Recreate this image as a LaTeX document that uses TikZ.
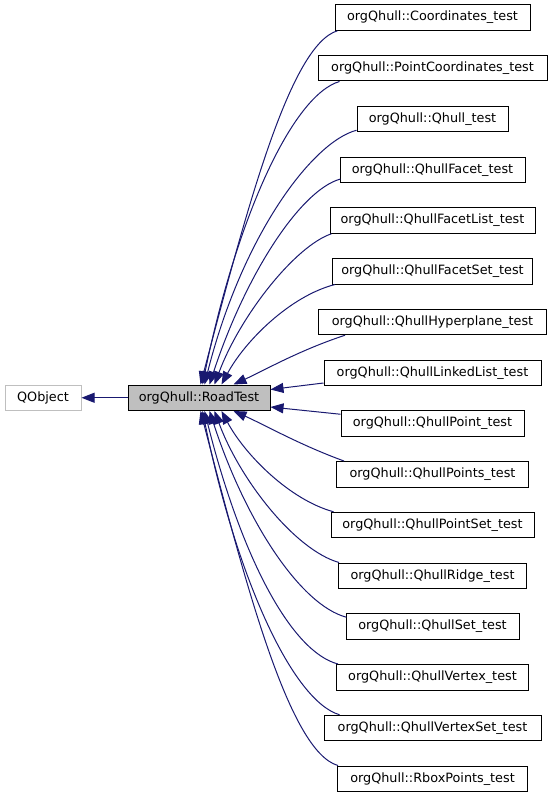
\documentclass[tikz,border=0pt]{standalone}
\usepackage{fontspec}
\setmainfont{DejaVu Sans}
\usetikzlibrary{arrows.meta}
\definecolor{edgeblue}{HTML}{191970}
\definecolor{boxgray}{HTML}{BFBFBF}
\tikzset{
  cls/.style={draw=black, line width=1pt, fill=white, inner sep=0pt, minimum height=25.5pt,
    font=\fontsize{12.8}{14}\selectfont, text=black},
  edge/.style={draw=edgeblue, line width=1pt, -{Triangle[length=13pt,width=10pt]}},
}
\begin{document}
\begin{tikzpicture}[x=1pt,y=-1pt]
\useasboundingbox (0,0) rectangle (552,797);
% nodes
\node[cls, draw=boxgray, minimum width=76pt] (qobj) at (43,397.75) {QObject};
\node[cls, fill=boxgray, minimum width=142pt] (road) at (199,397.75) {orgQhull::RoadTest};
\node[cls, minimum width=195pt] (c1) at (432.5,17.5) {orgQhull::Coordinates\_test};
\node[cls, minimum width=229pt] (c2) at (432.5,68.25) {orgQhull::PointCoordinates\_test};
\node[cls, minimum width=151pt] (c3) at (432.5,119) {orgQhull::Qhull\_test};
\node[cls, minimum width=185pt] (c4) at (432.5,169.75) {orgQhull::QhullFacet\_test};
\node[cls, minimum width=205pt] (c5) at (432.5,220.5) {orgQhull::QhullFacetList\_test};
\node[cls, minimum width=200pt] (c6) at (432.5,271.25) {orgQhull::QhullFacetSet\_test};
\node[cls, minimum width=228pt] (c7) at (432.5,322) {orgQhull::QhullHyperplane\_test};
\node[cls, minimum width=217pt] (c8) at (432.5,372.75) {orgQhull::QhullLinkedList\_test};
\node[cls, minimum width=183pt] (c9) at (432.5,423.5) {orgQhull::QhullPoint\_test};
\node[cls, minimum width=192pt] (c10) at (432.5,474.25) {orgQhull::QhullPoints\_test};
\node[cls, minimum width=203pt] (c11) at (432.5,525) {orgQhull::QhullPointSet\_test};
\node[cls, minimum width=188pt] (c12) at (432.5,575.75) {orgQhull::QhullRidge\_test};
\node[cls, minimum width=173pt] (c13) at (432.5,626.5) {orgQhull::QhullSet\_test};
\node[cls, minimum width=192pt] (c14) at (432.5,677.25) {orgQhull::QhullVertex\_test};
\node[cls, minimum width=217pt] (c15) at (432.5,728) {orgQhull::QhullVertexSet\_test};
\node[cls, minimum width=190pt] (c16) at (432.5,778.75) {orgQhull::RboxPoints\_test};
% edges
\draw[edge] (road.west) -- (qobj.east);
\draw[edge] ([xshift=3pt]c1.south west) .. controls (290,45) and (247,208) .. ([xshift=73pt]road.north west);
\draw[edge] ([xshift=22pt]c2.south west) .. controls (293,95) and (237,216) .. ([xshift=75pt]road.north west);
\draw[edge] ([yshift=2pt]c3.south west) .. controls (312,142) and (242,236) .. ([xshift=77pt]road.north west);
\draw[edge] ([xshift=1pt,yshift=4pt]c4.south west) .. controls (300,190) and (245,276) .. ([xshift=82pt]road.north west);
\draw[edge] ([xshift=2pt]c5.south west) .. controls (295,246) and (240,316) .. ([xshift=87pt]road.north west);
\draw[edge] ([xshift=3pt]c6.south west) .. controls (290,296) and (245,341) .. ([xshift=94pt]road.north west);
\draw[edge] ([xshift=27pt]c7.south west) .. controls (300,350) and (265,370) .. ([xshift=106pt]road.north west);
\draw[edge] ([yshift=3pt]c8.south west) -- ([yshift=-5pt]road.north east);
\draw[edge] ([yshift=-4pt]c9.north west) -- ([yshift=4pt]road.south east);
\draw[edge] ([xshift=8pt]c10.north west) .. controls (300,445) and (265,425) .. ([xshift=106pt]road.south west);
\draw[edge] ([xshift=3pt]c11.north west) .. controls (290,500) and (245,455) .. ([xshift=94pt]road.south west);
\draw[edge] ([xshift=1pt]c12.north west) .. controls (295,550) and (240,480) .. ([xshift=87pt]road.south west);
\draw[edge] ([xshift=1pt,yshift=-4pt]c13.north west) .. controls (300,605) and (245,520) .. ([xshift=82pt]road.south west);
\draw[edge] ([xshift=2pt]c14.north west) .. controls (292,652) and (242,560) .. ([xshift=77pt]road.south west);
\draw[edge] ([xshift=16pt]c15.north west) .. controls (293,701) and (237,580) .. ([xshift=75pt]road.south west);
\draw[edge] ([xshift=1pt]c16.north west) .. controls (290,752) and (247,590) .. ([xshift=73pt]road.south west);
\end{tikzpicture}
\end{document}
